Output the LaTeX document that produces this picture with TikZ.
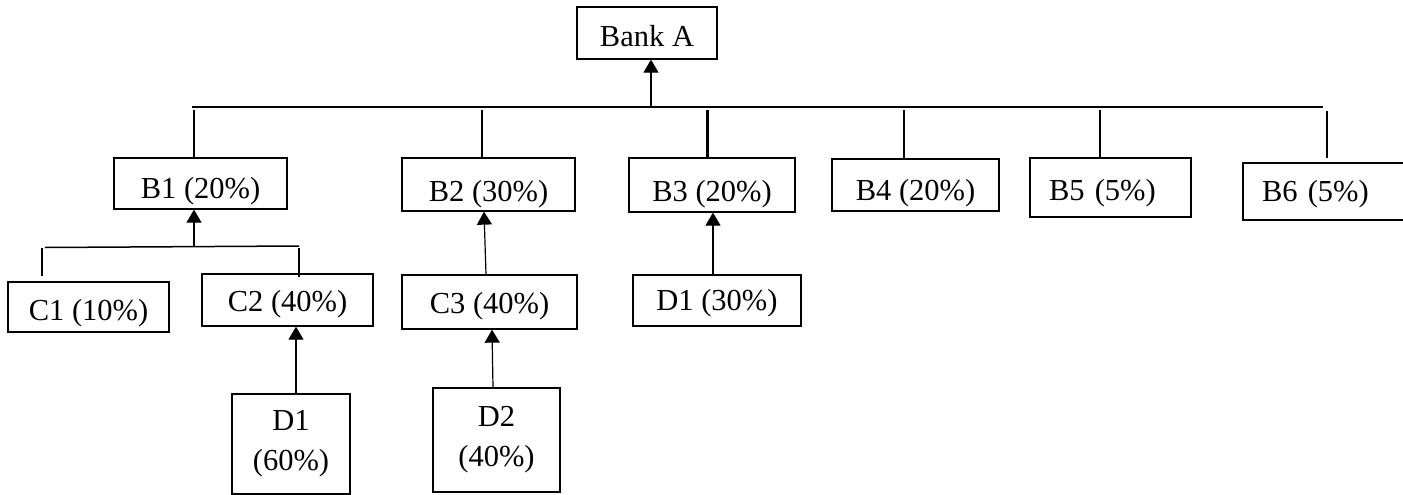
\documentclass[tikz,border=0pt]{standalone}
\usepackage{fontspec}
\setmainfont{Liberation Serif}
\usetikzlibrary{arrows.meta}
\begin{document}
\begin{tikzpicture}[x=1pt,y=-1pt,
  box/.style={draw, line width=1.3pt, inner sep=0pt, font=\fontsize{30.5}{40}\selectfont},
  bx/.style={box, text height=#1, text depth=0pt},
  bus/.style={line width=2.5pt},
  drop/.style={line width=2.2pt},
  cbus/.style={line width=1.5pt},
  arr/.style={line width=1.2pt, -{Triangle[length=13pt,width=15pt]}},
]
\useasboundingbox (0,0) rectangle (1403,495);

% nodes
\node[bx=27pt, minimum width=140pt, minimum height=52pt] (A) at (647,33) {Bank A};
\node[bx=29pt, minimum width=173pt, minimum height=51pt] (B1) at (200.5,183.5) {B1 (20\%)};
\node[bx=34pt, minimum width=173pt, minimum height=53pt] (B2) at (488.5,184.5) {B2 (30\%)};
\node[bx=33pt, minimum width=166pt, minimum height=54pt] (B3) at (712,185) {B3 (20\%)};
\node[bx=30pt, minimum width=167pt, minimum height=52pt] (B4) at (915.5,185) {B4 (20\%)};
\node[bx=25pt, minimum height=59pt, inner xsep=19pt, text width=123pt, align=left] (B5) at (1110.5,187.5) {B5 (5\%)};
\node[bx=20pt, minimum height=57pt, inner xsep=19pt, text width=129pt, align=left] (B6) at (1326.5,191.5) {B6 (5\%)};
\node[bx=26pt, minimum width=161pt, minimum height=50pt] (C1) at (88.5,307) {C1 (10\%)};
\node[bx=23pt, minimum width=171pt, minimum height=52pt] (C2) at (287.5,300) {C2 (40\%)};
\node[bx=22pt, minimum width=175pt, minimum height=54pt] (C3) at (489.5,302) {C3 (40\%)};
\node[bx=19pt, minimum width=168pt, minimum height=51pt] (Dthree) at (717,300.5) {D1 (30\%)};
\node[box, align=center, minimum width=118pt, minimum height=100pt] (Dsix) at (291,444) {D1\\(60\%)};
\node[box, align=center, minimum width=127pt, minimum height=104pt] (Dtwo) at (496.5,440) {D2\\(40\%)};

% main bus
\coordinate (busL) at (192,107);
\coordinate (busR) at (1323,107);
\draw[bus] (busL) -- (busR);
\coordinate (jA) at (651,107);
\draw[arr] (jA) -- ([xshift=4pt]A.south);

% drops to B boxes
\coordinate (t1) at (194,110);
\coordinate (t2) at (482,110);
\coordinate (t3) at (707.5,110);
\coordinate (t4) at (904,110);
\coordinate (t5) at (1100,110);
\coordinate (t6) at (1327,111);
\coordinate (e6) at (1327,158);
\draw[drop] (t1) -- (t1 |- B1.north);
\draw[drop] (t2) -- (t2 |- B2.north);
\draw[drop] (t3) -- (t3 |- B3.north);
\draw[drop] (t4) -- (t4 |- B4.north);
\draw[drop] (t5) -- (t5 |- B5.north);
\draw[drop] (t6) -- (e6);

% C bus under B1
\coordinate (cL) at (45,247.5);
\coordinate (cR) at (299,246);
\draw[cbus] (cL) -- (cR);
\coordinate (jB1) at (194,247);
\draw[arr] (jB1) -- ([xshift=-6.5pt]B1.south);
\coordinate (c1t) at (42,248);
\coordinate (c1b) at (42,276);
\coordinate (c2t) at (299,248);
\coordinate (c2b) at (299,277);
\draw[line width=2pt] (c1t) -- (c1b);
\draw[line width=2pt] (c2t) -- (c2b);

% arrows
\draw[arr] ([xshift=-3.5pt]C3.north) -- ([xshift=-4.5pt]B2.south);
\draw[arr] ([xshift=-4pt]Dthree.north) -- ([xshift=1pt]B3.south);
\draw[arr] ([xshift=5pt]Dsix.north) -- ([xshift=8.5pt]C2.south);
\draw[arr] ([xshift=-3.5pt]Dtwo.north) -- ([xshift=2.5pt]C3.south);
\end{tikzpicture}
\end{document}
